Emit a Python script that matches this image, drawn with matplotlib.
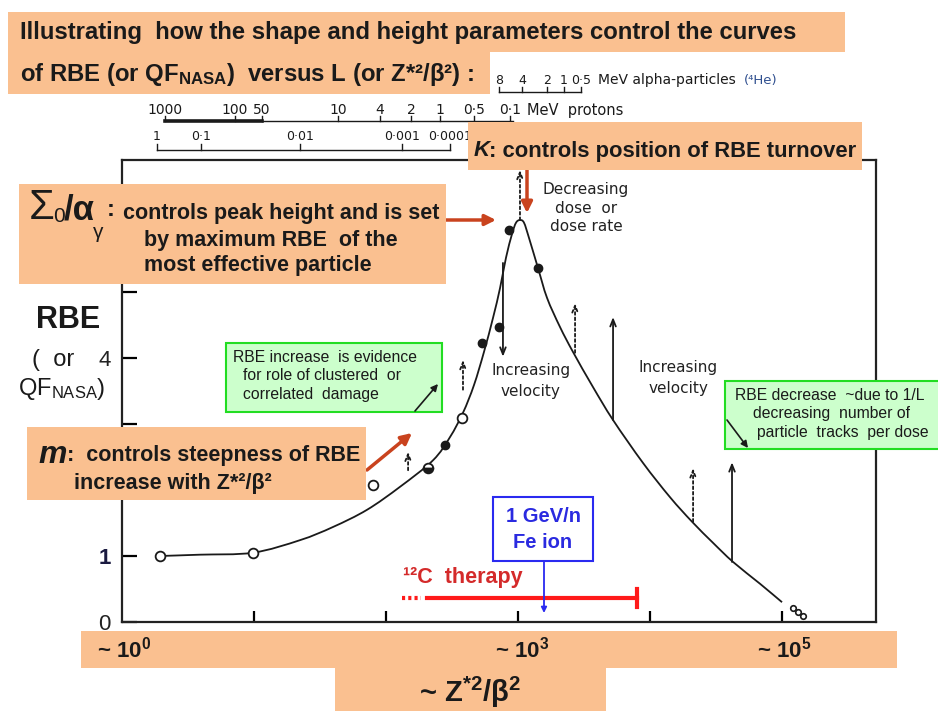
import numpy as np
import matplotlib
matplotlib.use("Agg")
import matplotlib.pyplot as plt
from matplotlib.patches import Rectangle, FancyArrowPatch, PathPatch
from matplotlib.path import Path

plt.rcParams['mathtext.default'] = 'regular'

# ---- data ----
# smooth RBE curve (L ~ Z*^2/beta^2, RBE)
curve_L = [1.94, 3.90, 9.83, 22.3, 39.7, 71.8, 128, 227, 305, 383, 464, 552, 647,
           731, 811, 901, 966, 1035, 1110, 1211, 1419, 1660, 2080, 2612, 3698,
           5248, 8851, 14190, 20800, 30000, 42560, 68080, 100000]
curve_rbe = [1.00, 1.02, 1.05, 1.24, 1.44, 1.70, 2.05, 2.45, 2.80, 3.17, 3.59, 4.09, 4.61,
             5.06, 5.52, 5.88, 6.05, 6.09, 6.05, 5.82, 5.36, 4.91, 4.47, 4.09, 3.56,
             3.06, 2.41, 1.89, 1.52, 1.20, 0.91, 0.58, 0.30]

open_L = [1.94, 9.8, 80, 377]
open_rbe = [1.00, 1.05, 2.07, 3.09]
half_L = [208]
half_rbe = [2.33]
filled_L = [280, 533, 718, 855, 1419]
filled_rbe = [2.68, 4.23, 4.47, 5.94, 5.36]
small_L = [121000, 132000, 144000]
small_rbe = [0.21, 0.15, 0.09]

# shift arrows (x, from, to)
dotted_L = [1035, 383, 147, 2705, 21200]
dotted_from = [6.09, 3.52, 2.30, 4.08, 1.52]
dotted_to = [6.85, 3.97, 2.58, 4.83, 2.33]
solid_L = [769, 5248, 41800]
solid_from = [5.44, 3.06, 0.91]
solid_to = [4.02, 4.62, 2.42]

# secondary energy scales printed over the plot
proton_labels = ['1000', '100', '50', '10', '4', '2', '1', '0·5', '0·1']
proton_L = [2.12, 7.18, 11.5, 43.3, 90.1, 155, 257, 464, 869]
third_labels = ['1', '0·1', '0·01', '0·001', '0·0001']
third_L = [1.84, 3.97, 22.3, 132, 305]
alpha_labels = ['8', '4', '2', '1', '0·5']
alpha_L = [718, 1072, 1660, 2230, 3000]

yticks = [0, 1, 2, 3, 4, 5, 6]
ytick_labels = ['0', '1', '', '', '4', '', '']
xticks = [10, 100, 1000, 1e4, 1e5]

W, H = 938, 711
ORANGE = '#FAC090'
RED = '#C9431E'
INK = '#1a1a1a'
SANS = ['Liberation Sans', 'DejaVu Sans']
SCAN = ['DejaVu Sans']

fig = plt.figure(figsize=(W / 100, H / 100), dpi=100)
ax = fig.add_axes([122 / W, 89 / H, (876 - 122) / W, (622 - 160) / H])


def P(x, y):
    return (x / W, 1 - y / H)


def box(x0, y0, x1, y1, fc=ORANGE, ec='none', lw=0, z=5):
    fig.add_artist(Rectangle(P(x0, y1), (x1 - x0) / W, (y1 - y0) / H,
                             transform=fig.transFigure, fc=fc, ec=ec, lw=lw, zorder=z))


def txt(x, y, s, size, **kw):
    kw.setdefault('zorder', 6)
    kw.setdefault('va', 'center')
    kw.setdefault('family', SANS)
    kw.setdefault('color', INK)
    fig.text(x / W, 1 - y / H, s, fontsize=size, **kw)


def farrow(a, b, color=RED, lw=2.5, ms=16, z=4):
    fig.add_artist(FancyArrowPatch(P(*a), P(*b), transform=fig.transFigure,
                                   arrowstyle='-|>', mutation_scale=ms, color=color,
                                   lw=lw, zorder=z, shrinkA=0, shrinkB=0))


# ---- the plot itself ----
ax.set_xscale('log')
ax.set_xlim(1, 10 ** 5.712)
ax.set_ylim(0, 7)

# draw the curve as a smooth Bezier through the read points (Catmull-Rom in log space)
pts = np.column_stack([np.log10(curve_L), curve_rbe])
ext = np.vstack([pts[0], pts, pts[-1]])
verts, codes = [pts[0]], [Path.MOVETO]
for i in range(len(pts) - 1):
    p0, p1, p2, p3 = ext[i], ext[i + 1], ext[i + 2], ext[i + 3]
    verts += [p1 + (p2 - p0) / 6, p2 - (p3 - p1) / 6, p2]
    codes += [Path.CURVE4] * 3
verts = np.array(verts)
verts[:, 0] = 10 ** verts[:, 0]
ax.add_patch(PathPatch(Path(verts, codes), fill=False, ec=INK, lw=1.3))

ax.plot(open_L, open_rbe, 'o', ms=7, mfc='white', mec=INK, mew=1.3)
ax.plot(half_L, half_rbe, 'o', ms=7, fillstyle='bottom', mfc=INK,
        mfcalt='white', mec=INK, mew=1.3)
ax.plot(filled_L, filled_rbe, 'o', ms=6, color=INK)
ax.plot(small_L, small_rbe, 'o', ms=4, mfc='white', mec=INK, mew=1.2)

for xv, y0, y1 in zip(dotted_L, dotted_from, dotted_to):
    ax.annotate('', xy=(xv, y1), xytext=(xv, y0),
                arrowprops=dict(arrowstyle='->,head_length=0.5,head_width=0.2',
                                lw=1.3, ls=(0, (1.5, 1.5)), color=INK,
                                shrinkA=0, shrinkB=0))
for xv, y0, y1 in zip(solid_L, solid_from, solid_to):
    ax.annotate('', xy=(xv, y1), xytext=(xv, y0),
                arrowprops=dict(arrowstyle='->,head_length=0.5,head_width=0.2',
                                lw=1.3, color=INK, shrinkA=0, shrinkB=0))

ax.text(1254, 3.65, 'Increasing\nvelocity', ha='center', va='center', fontsize=11,
        family=SCAN, color='#222222', linespacing=1.5)
ax.text(16290, 3.70, 'Increasing\nvelocity', ha='center', va='center', fontsize=11,
        family=SCAN, color='#222222', linespacing=1.5)
ax.text(3273, 6.27, 'Decreasing\ndose  or\ndose rate', ha='center', va='center',
        fontsize=11, family=SCAN, color='#222222', linespacing=1.3)

for s in ax.spines.values():
    s.set_linewidth(1.6)
    s.set_color('#222222')
ax.set_yticks(yticks)
ax.set_yticklabels(ytick_labels, fontsize=16, family=SANS, color='#222222')
ax.get_yticklabels()[1].set_fontweight('bold')
ax.get_yticklabels()[1].set_color('#1a1a40')
ax.tick_params(axis='y', direction='in', length=11, width=1.6, pad=8)
ax.set_xticks(xticks)
ax.set_xticklabels([])
ax.xaxis.set_minor_locator(matplotlib.ticker.NullLocator())
ax.tick_params(axis='x', direction='in', length=8, width=1.6)

# secondary energy scales above the frame
xt = ax.get_xaxis_transform()
ax.plot([proton_L[0], proton_L[2]], [1.084, 1.084], transform=xt, clip_on=False,
        color=INK, lw=2.6)
ax.plot([proton_L[2], proton_L[-1] * 1.06], [1.084, 1.084], transform=xt, clip_on=False,
        color=INK, lw=1.0)
for lab, xv in zip(proton_labels, proton_L):
    ax.text(xv, 1.108, lab, transform=xt, ha='center', va='center', fontsize=10,
            family=SCAN, color=INK)
    ax.plot([xv, xv], [1.084, 1.096], transform=xt, clip_on=False, color=INK, lw=1)
ax.annotate('MeV  protons', xy=(proton_L[-1], 1.108), xycoords=xt, xytext=(12, 0),
            textcoords='offset points', va='center', fontsize=10.5, family=SCAN,
            color=INK)

ax.plot([third_L[0], third_L[-1]], [1.022, 1.022], transform=xt, clip_on=False,
        color=INK, lw=1.0)
for lab, xv in zip(third_labels, third_L):
    ax.text(xv, 1.050, lab, transform=xt, ha='center', va='center', fontsize=9,
            family=SCAN, color=INK)
    ax.plot([xv, xv], [1.022, 1.034], transform=xt, clip_on=False, color=INK, lw=1)

ax.plot([alpha_L[0], alpha_L[-1]], [1.147, 1.147], transform=xt, clip_on=False,
        color=INK, lw=1.0)
for lab, xv in zip(alpha_labels, alpha_L):
    ax.text(xv, 1.173, lab, transform=xt, ha='center', va='center', fontsize=9,
            family=SCAN, color=INK)
    ax.plot([xv, xv], [1.147, 1.159], transform=xt, clip_on=False, color=INK, lw=1)
ax.annotate('MeV alpha-particles', xy=(alpha_L[-1], 1.173), xycoords=xt,
            xytext=(12, 0), textcoords='offset points', va='center', fontsize=10,
            family=SCAN, color=INK)
ax.annotate('(⁴He)', xy=(alpha_L[-1], 1.173), xycoords=xt,
            xytext=(117, 0), textcoords='offset points', va='center', fontsize=9.5,
            family=SCAN, color='#2f4f8f')

# ---- title boxes ----
box(8, 12, 845, 52)
box(8, 52, 490, 94)
txt(20, 32, 'Illustrating  how the shape and height parameters control the curves', 17.2,
    weight='bold')
txt(20, 74, 'of RBE (or QF$_{NASA}$)  versus L (or Z*²/β²) :', 17.2, weight='bold')

# K box
box(468, 122, 862, 170)
txt(474, 151, 'K', 16, weight='bold', style='italic')
txt(489, 151, ': controls position of RBE turnover', 15.8, weight='bold')
farrow((527, 168), (527, 213))

# Sigma box
box(19, 184, 446, 284)
txt(29, 208, 'Σ', 30)
txt(53, 216, '0', 15)
txt(64, 210, '/α', 25, weight='bold')
txt(93, 233, 'γ', 15)
txt(107, 210, ':', 17, weight='bold')
txt(123, 213, 'controls peak height and is set', 15.5, weight='bold')
txt(144, 241, 'by maximum RBE  of the', 15.5, weight='bold')
txt(144, 266, 'most effective particle', 15.5, weight='bold')
farrow((446, 220), (496, 220))

# m box
box(27, 427, 366, 500)
txt(38, 455, 'm', 23, weight='bold', style='italic')
txt(67, 455, ':  controls steepness of RBE', 15.5, weight='bold')
txt(74, 484, 'increase with Z*²/β²', 15.5, weight='bold')
farrow((367, 470), (412, 433))

# y label
txt(68, 320, 'RBE', 22, weight='bold', ha='center')
txt(53, 360, '(  or', 17, ha='center')
txt(62, 389, 'QF$_{NASA}$)', 17, ha='center')

# green note boxes
box(226, 343, 442, 412, fc='#CCFFCC', ec='#22DD22', lw=1.5)
txt(233, 357, 'RBE increase  is evidence', 11.3)
txt(243, 375, 'for role of clustered  or', 11.3)
txt(243, 395, 'correlated  damage', 11.3)
farrow((415, 411), (438, 384), color=INK, lw=1.2, ms=10, z=7)

box(725, 381, 945, 449, fc='#CCFFCC', ec='#22DD22', lw=1.5)
txt(735, 395, 'RBE decrease  ~due to 1/L', 11.3)
txt(753, 413, 'decreasing  number of', 11.3)
txt(757, 433, 'particle  tracks  per dose', 11.3)
farrow((727, 420), (748, 448), color=INK, lw=1.2, ms=10, z=7)

# Fe ion box
box(493, 497, 593, 561, fc='white', ec='#2A2AF0', lw=1.5)
txt(543, 517, '1 GeV/n', 14.5, weight='bold', color='#2A2AE0', ha='center')
txt(543, 543, 'Fe ion', 14.5, weight='bold', color='#2A2AE0', ha='center')
farrow((544, 561), (544, 613), color='#2A2AF0', lw=1.3, ms=8, z=7)

# carbon therapy range
txt(403, 578, '¹²C  therapy', 15.5, weight='bold', color='#D42A2A')
fig.add_artist(plt.Line2D([402 / W, 421 / W], [1 - 598 / H] * 2, color='#FF1A1A',
                          lw=3, ls=(0, (0.75, 0.75)), zorder=6))
fig.add_artist(plt.Line2D([427 / W, 637 / W], [1 - 598 / H] * 2, color='#FF1A1A',
                          lw=3, zorder=6))
fig.add_artist(plt.Line2D([637 / W, 637 / W], [1 - 589 / H, 1 - 607 / H],
                          color='#FF1A1A', lw=3, zorder=6))

# bottom axis boxes
box(81, 631, 897, 668)
box(335, 668, 606, 711)
txt(97, 650, '~ 10$^0$', 16, weight='bold')
txt(495, 650, '~ 10$^3$', 16, weight='bold')
txt(757, 650, '~ 10$^5$', 16, weight='bold')
txt(470, 692, '~ Z$^{*2}$/β$^2$', 21, weight='bold', ha='center')

fig.savefig('out.png', dpi=100)
